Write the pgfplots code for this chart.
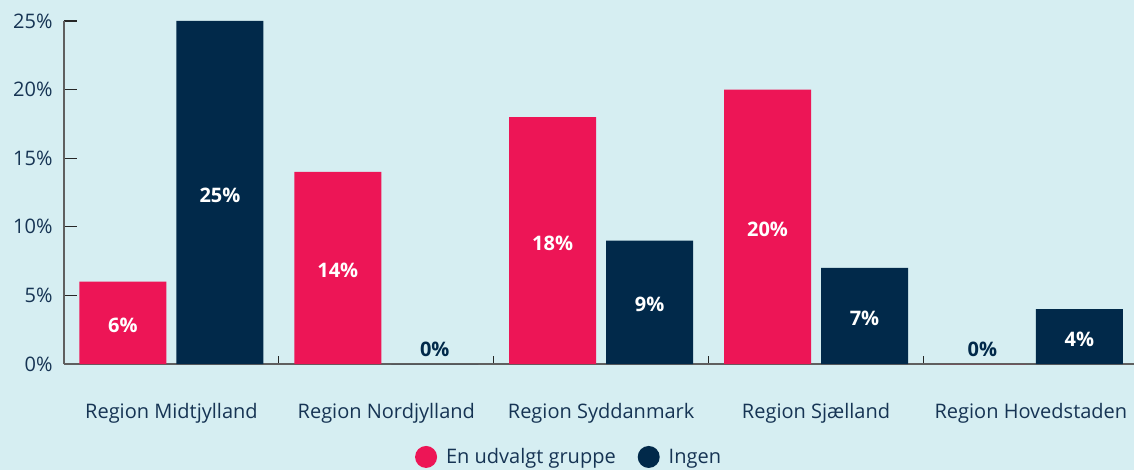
\documentclass[border=0pt]{standalone}
\usepackage{pgfplots}
\pgfplotsset{compat=1.18}
\usepackage{fontspec}
\setmainfont{Open Sans}
\usetikzlibrary{backgrounds}

\definecolor{bg}{RGB}{214,238,242}
\definecolor{pinkred}{RGB}{237,21,86}
\definecolor{navy}{RGB}{1,41,74}
\definecolor{txt}{RGB}{22,52,84}
\definecolor{axisgray}{RGB}{95,95,95}

\begin{document}
\begin{tikzpicture}[font=\fontsize{20bp}{24bp}\selectfont]
  \begin{axis}[
    at={(0,0)}, anchor=south west,
    scale only axis,
    width=1070bp, height=343bp,
    xmin=-0.5, xmax=4.48,
    ymin=0, ymax=25,
    axis x line=bottom, axis y line=left,
    axis line style={-, axisgray, line width=1.4bp},
    tick align=inside,
    xtick={0,1,2,3,4},
    xticklabels={Region Midtjylland, Region Nordjylland, Region Syddanmark, Region Sjælland, Region Hovedstaden},
    minor xtick={0.5,1.5,2.5,3.5},
    major x tick style={draw=none},
    minor tick length=8bp,
    major tick length=13bp,
    every tick/.style={black!85, line width=1.2bp},
    ytick={0,5,10,15,20,25},
    yticklabels={0\%,5\%,10\%,15\%,20\%,25\%},
    ticklabel style={text=txt},
    xticklabel style={yshift=-36bp},
    yticklabel style={xshift=-8bp},
    legend columns=2,
    legend style={draw=none, fill=none, at={(0.472,-0.271)}, anchor=center,
      text=txt, /tikz/every even column/.append style={column sep=20bp}},
    legend image code/.code={\fill[#1] (0,0) circle (11bp); \path[draw=none, fill=none] (0,0) -- (18bp,0);},
  ]
    % bars
    \addplot[ybar, bar width=87bp, bar shift=-48.5bp, fill=pinkred, draw=none]
      coordinates {(0,6) (1,14) (2,18) (3,20) (4,0)};
    \addlegendentry{En udvalgt gruppe}
    \addplot[ybar, bar width=87bp, bar shift=48.5bp, fill=navy, draw=none]
      coordinates {(0,25) (1,0) (2,9) (3,7) (4,4)};
    \addlegendentry{Ingen}

    % value labels inside bars
    \addplot[draw=none, mark=none, forget plot, point meta=explicit symbolic,
      nodes near coords,
      every node near coord/.style={anchor=center, xshift=-48.5bp, yshift=-2.5bp, text=white, font=\fontsize{20bp}{24bp}\selectfont\bfseries}]
      coordinates {(0,3)[6\%] (1,7)[14\%] (2,9)[18\%] (3,10)[20\%]};
    \addplot[draw=none, mark=none, forget plot, point meta=explicit symbolic,
      nodes near coords,
      every node near coord/.style={anchor=center, xshift=48.5bp, yshift=-2.5bp, text=white, font=\fontsize{20bp}{24bp}\selectfont\bfseries}]
      coordinates {(0,12.5)[25\%] (2,4.5)[9\%] (3,3.5)[7\%] (4,2)[4\%]};
    % zero labels
    \addplot[draw=none, mark=none, forget plot, point meta=explicit symbolic,
      nodes near coords,
      every node near coord/.style={anchor=center, text=navy, font=\fontsize{20bp}{24bp}\selectfont\bfseries}]
      coordinates {(1.2257,1.1)[0\%] (3.7743,1.1)[0\%]};
  \end{axis}
  \begin{scope}[on background layer]
    \fill[bg] (-64bp,-106bp) rectangle (1070bp,364bp);
  \end{scope}
  \pgfresetboundingbox
  \useasboundingbox (-64bp,-106bp) rectangle (1070bp,364bp);
\end{tikzpicture}
\end{document}
